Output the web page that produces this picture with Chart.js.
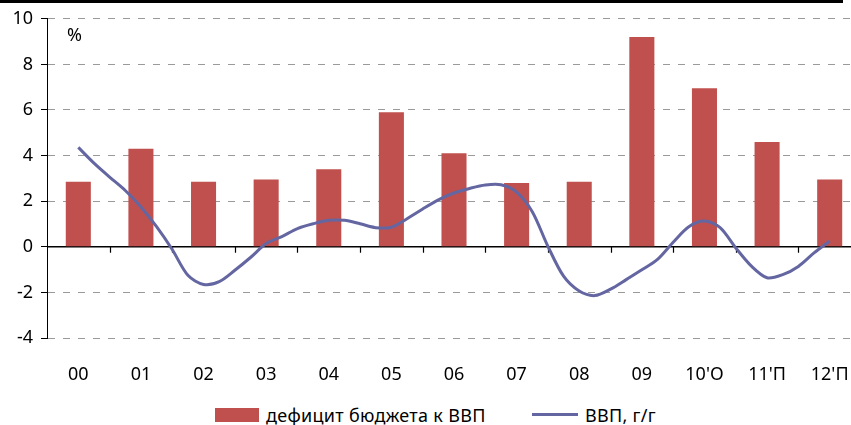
<!DOCTYPE html>
<html>
<head>
<meta charset="utf-8">
<script src="https://cdn.jsdelivr.net/npm/chart.js@4.4.1/dist/chart.umd.min.js"></script>
<style>
html,body{margin:0;padding:0;background:#fff;overflow:hidden}
#wrap{position:relative;width:851px;height:425px;overflow:hidden;font-family:"Noto Sans",sans-serif;color:#000}
#box{position:absolute;left:0;top:0;width:875px;height:400px}
#topline{position:absolute;left:0;top:0;width:843px;height:3px;background:#000}
#pct{position:absolute;left:67px;top:22px;font-size:18px}
.leg{position:absolute;top:403px;font-size:18px;letter-spacing:0.3px;white-space:nowrap}
.swatch{position:absolute}
</style>
</head>
<body>
<div id="wrap">
<div id="box"><canvas id="grafica"></canvas></div>
<div id="topline"></div>
<div id="pct">%</div>
<div class="swatch" style="left:215px;top:408px;width:44px;height:14px;background:#c0504d"></div>
<div class="leg" style="left:266px">дефицит бюджета к ВВП</div>
<div class="swatch" style="left:532px;top:413px;width:46px;height:3px;background:#6466a2"></div>
<div class="leg" style="left:585px">ВВП, г/г</div>
</div>
<script>
const years = ["00","01","02","03","04","05","06","07","08","09","10'О","11'П","12'П"]
const deficit = [2.85,4.3,2.85,2.95,3.4,5.9,4.1,2.8,2.85,9.2,6.95,4.6,2.95]

// ВВП, г/г - квартальные значения, от 00 до 12'П
const gdp = [
4.36,3.67,3.06,2.47,1.75,0.88,-0.12,-1.25,
-1.65,-1.53,-1.03,-0.47,0.14,0.45,0.8,1.01,
1.16,1.16,1.01,0.84,0.86,1.23,1.66,2.06,
2.36,2.56,2.71,2.72,2.4,1.54,0.02,-1.29,
-1.94,-2.14,-1.86,-1.44,-1.01,-0.55,0.2,0.88,
1.13,0.84,-0.05,-0.85,-1.36,-1.22,-0.86,-0.27,
0.25
]
const yTicks = [-4,-2,0,2,4,6,8,10]

const barPoints = deficit.map((v,i)=>({x:i,y:v}))
const gdpPoints = gdp.map((v,i)=>({x:i/4,y:v}))

const ejeCero = {
id:"ejeCero",
beforeDatasetsDraw(chart){
const {ctx,chartArea,scales} = chart
const y0 = scales.y.getPixelForValue(0)
ctx.save()
ctx.strokeStyle = "#000"
ctx.lineWidth = 1.5
ctx.beginPath()
ctx.moveTo(chartArea.left,y0)
ctx.lineTo(chartArea.right,y0)
ctx.stroke()
ctx.lineWidth = 1.2
ctx.beginPath()
for(let i=0;i<years.length;i++){
const x = Math.round(scales.x.getPixelForValue(i+0.5))+0.5
ctx.moveTo(x,y0)
ctx.lineTo(x,y0+6)
}
ctx.stroke()
ctx.restore()
}
}

new Chart(document.getElementById("grafica"),{
type:"bar",
data:{
datasets:[{
label:"дефицит бюджета к ВВП",
data:barPoints,
backgroundColor:"#c0504d",
barPercentage:0.4,
categoryPercentage:1,
order:1
},{
type:"line",
label:"ВВП, г/г",
data:gdpPoints,
borderColor:"#6466a2",
borderWidth:3,
pointRadius:0,
tension:0.3,
order:0
}]
},
plugins:[ejeCero],
options:{
responsive:true,
maintainAspectRatio:false,
animation:false,
layout:{padding:{top:18,right:14,left:0,bottom:0}},
plugins:{legend:{display:false},tooltip:{enabled:false}},
scales:{
x:{
type:"linear",
min:-0.5,
max:12.5,
offset:false,
afterBuildTicks:s=>{s.ticks=years.map((y,i)=>({value:i}))},
grid:{display:false},
border:{display:false},
ticks:{
color:"#000",
font:{family:"Noto Sans",size:18},
padding:18,
maxRotation:0,
autoSkip:false,
callback:v=>years[v]
},
afterFit:s=>{s.height=62}
},
y:{
min:-4,
max:10,
afterBuildTicks:s=>{s.ticks=yTicks.map(v=>({value:v}))},
grid:{
color:c=>c.tick && c.tick.value===0 ? "rgba(0,0,0,0)" : "#9a9a9a",
tickColor:"#000",
tickLength:6,
lineWidth:1
},
border:{display:true,color:"#000",width:1,dash:[7,8]},
ticks:{color:"#000",font:{family:"Noto Sans",size:18},padding:8},
afterFit:s=>{s.width=47}
}
}
}
})
</script>
</body>
</html>
